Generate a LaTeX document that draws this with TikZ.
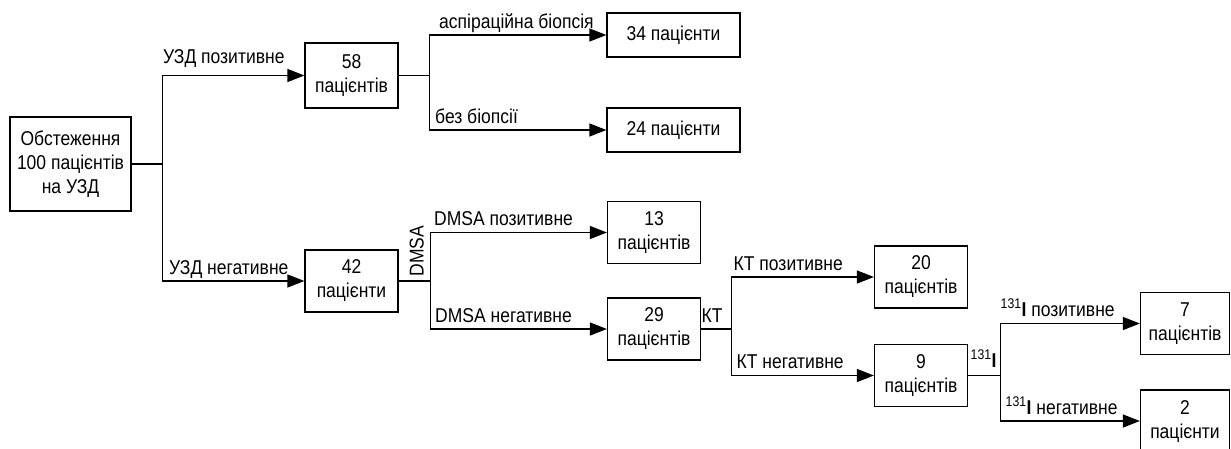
\documentclass[tikz,border=0pt]{standalone}
\usepackage{fontspec}
\setmainfont[FakeStretch=0.875]{Liberation Sans}
\usepackage{tikz}
\usetikzlibrary{arrows.meta,positioning}

\begin{document}
\begin{tikzpicture}[x=1pt, y=-1pt, on grid, font=\fontsize{20}{24}\selectfont,
    box/.style={draw, line width=1.2pt, align=center, inner sep=0pt, minimum width=93pt, minimum height=62pt},
    wide/.style={box, minimum width=133pt, minimum height=44pt},
    link/.style={line width=1.2pt, -{Triangle[length=17pt,width=13pt]}},
    tie/.style={line width=1.2pt},
    lbl/.style={pos=0.5, anchor=base west, inner sep=0pt, yshift=7pt}]
           \useasboundingbox (0,0) rectangle (1231,448);
           \node[box, minimum width=121pt, minimum height=94pt] (obs) at (70.5,164) {Обстеження\\100 пацієнтів\\на УЗД};
           \node[box, minimum height=65pt] (b58) [above right=88.5pt and 281pt of obs] {58\\пацієнтів};
           \node[box] (b42) [below=205.5pt of b58] {42\\пацієнти};
           \node[wide] (b34) [above right=40.5pt and 322pt of b58] {34 пацієнти};
           \node[wide] (b24) [below=95pt of b34] {24 пацієнти};
           \node[box] (b13) [above right=48.5pt and 302.5pt of b42] {13\\пацієнтів};
           \node[box] (b29) [below=96.5pt of b13] {29\\пацієнтів};
           \node[box] (b20) [above right=52pt and 267pt of b29] {20\\пацієнтів};
           \node[box] (b9) [below=98.5pt of b20] {9\\пацієнтів};
           \node[box, minimum width=89pt] (b7) [above right=52pt and 264pt of b9] {7\\пацієнтів};
           \node[box, minimum width=89pt] (b2) [below=97.5pt of b7] {2\\пацієнти};

           \coordinate[right=31pt of obs.east] (j1);
           \coordinate[right=31pt of b58.east] (j2);
           \coordinate[right=32pt of b42.east] (j3);
           \coordinate[right=30pt of b29.east] (j4);
           \coordinate[right=32pt of b9.east] (j5);

           \draw[tie] (obs) -- (j1);
           \draw[link] (j1) |- node[lbl, yshift=5pt] {УЗД позитивне} (b58);
           \draw[link] (j1) |- node[lbl, xshift=6pt] {УЗД негативне} (b42);

           \draw[tie] (b58) -- (j2);
           \draw[link] (j2) |- node[lbl, xshift=9pt] {аспіраційна біопсія} (b34);
           \draw[link] (j2) |- node[lbl, xshift=5pt] {без біопсії} (b24);

           \draw[tie] (b42) -- node[pos=1, anchor=base west, inner sep=0pt, xshift=-7pt, yshift=4pt, rotate=90] (dmsa) {DMSA} (j3);
           \draw[link] (j3) |- node[lbl, xshift=3pt] {DMSA позитивне} (b13);
           \draw[link] (j3) |- node[lbl, xshift=4pt] {DMSA негативне} (b29);

           \draw[tie] (b29) -- node[pos=1, anchor=base east, inner sep=0pt, xshift=-8pt, yshift=7pt] (kt) {КТ} (j4);
           \draw[link] (j4) |- node[lbl, xshift=2pt] {КТ позитивне} (b20);
           \draw[link] (j4) |- node[lbl, xshift=5pt] {КТ негативне} (b9);

           \draw[tie] (b9) -- node[pos=1, anchor=base east, inner sep=0pt, xshift=-3pt, yshift=8pt] (iod) {\textsuperscript{131}\textbf{I}} (j5);
           \draw[link] (j5) |- node[lbl] {\textsuperscript{131}\textbf{I} позитивне} (b7);
           \draw[link] (j5) |- node[lbl, xshift=5pt] {\textsuperscript{131}\textbf{I} негативне} (b2);
        \end{tikzpicture}
\end{document}
